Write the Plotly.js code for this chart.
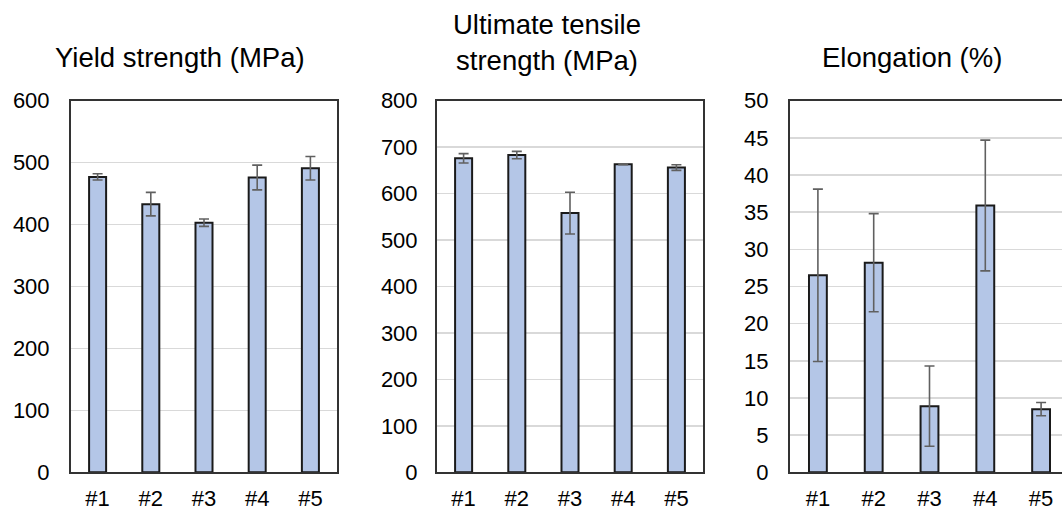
<!DOCTYPE html>
<html>
<head>
<meta charset="utf-8">
<script src="https://cdn.plot.ly/plotly-3.0.1.min.js"></script>
<style>
html, body { margin: 0; padding: 0; overflow: hidden; background: #fff; }
#chart { width: 1072px; height: 511px; }
</style>
</head>
<body>
<div id="chart"></div>
<script>
// ---- data ----
var categories = ['#1', '#2', '#3', '#4', '#5'];
var yieldStrength = [477, 433, 403, 476, 491];
var yieldErr = [5, 19, 6, 20, 19];
var utsValues = [676, 683, 558, 663, 656];
var utsErr = [10, 8, 45, 1, 6];
var elongation = [26.5, 28.2, 8.9, 35.9, 8.5];
var elongErr = [11.6, 6.6, 5.4, 8.8, 0.9];
var panelTitles = ['Yield strength (MPa)', 'Ultimate tensile<br>strength (MPa)', 'Elongation (%)'];

// ---- style ----
var W = 1072, H = 511;
var barFill = '#b4c6e7';
var barLine = '#1a1a1a';
var errColor = '#606060';
var frameColor = '#333333';
var gridColor = '#d9d9d9';
var fontFam = '"Liberation Sans", Arial, sans-serif';

function barTrace(y, err, xa, ya) {
  return {
    type: 'bar', x: categories, y: y, xaxis: xa, yaxis: ya,
    width: 0.32,
    marker: { color: barFill, line: { color: barLine, width: 2 } },
    error_y: { type: 'data', array: err, visible: true, color: errColor, thickness: 1.6, width: 5 },
    hoverinfo: 'x+y', showlegend: false
  };
}

var data = [
  barTrace(yieldStrength, yieldErr, 'x', 'y'),
  barTrace(utsValues, utsErr, 'x2', 'y2'),
  barTrace(elongation, elongErr, 'x3', 'y3')
];

var yDom = [(H - 472.3) / H, (H - 100.7) / H];
function xAxis(l, r, anchor) {
  return {
    domain: [l / W, r / W], anchor: anchor, type: 'category',
    range: [-0.5, 4.5],
    showline: true, mirror: true, linecolor: frameColor, linewidth: 2,
    showgrid: false, zeroline: false, ticks: '',
    ticklabelstandoff: 5,
    tickfont: { family: fontFam, size: 22, color: '#000' },
    fixedrange: true
  };
}
function yAxis(maxV, dt, anchor, standoff) {
  return {
    domain: yDom, anchor: anchor, range: [0, maxV], dtick: dt, tick0: 0,
    showline: true, mirror: true, linecolor: frameColor, linewidth: 2,
    showgrid: true, gridcolor: gridColor, gridwidth: 1.5, zeroline: false,
    ticks: '', ticklabelstandoff: standoff,
    tickfont: { family: fontFam, size: 22, color: '#000' },
    fixedrange: true
  };
}

var layout = {
  width: W, height: H,
  margin: { l: 0, r: 0, t: 0, b: 0 },
  paper_bgcolor: '#fff', plot_bgcolor: '#fff',
  font: { family: fontFam, color: '#000' },
  xaxis: xAxis(71, 337, 'y'),
  yaxis: yAxis(600, 100, 'x', 15),
  xaxis2: xAxis(437, 703, 'y2'),
  yaxis2: yAxis(800, 100, 'x2', 13),
  xaxis3: xAxis(790, 1069, 'y3'),
  yaxis3: yAxis(50, 5, 'x3', 15),
  annotations: [
    { text: panelTitles[0], x: 180 / W, y: (H - 57) / H, xref: 'paper', yref: 'paper',
      xanchor: 'center', yanchor: 'middle', showarrow: false, font: { family: fontFam, size: 27.5, color: '#000' } },
    { text: panelTitles[1], x: 547 / W, y: (H - 42) / H, xref: 'paper', yref: 'paper',
      xanchor: 'center', yanchor: 'middle', showarrow: false, font: { family: fontFam, size: 27.5, color: '#000' } },
    { text: panelTitles[2], x: 912 / W, y: (H - 57) / H, xref: 'paper', yref: 'paper',
      xanchor: 'center', yanchor: 'middle', showarrow: false, font: { family: fontFam, size: 27.5, color: '#000' } }
  ]
};

Plotly.newPlot('chart', data, layout, { displayModeBar: false, staticPlot: true });
</script>
</body>
</html>
